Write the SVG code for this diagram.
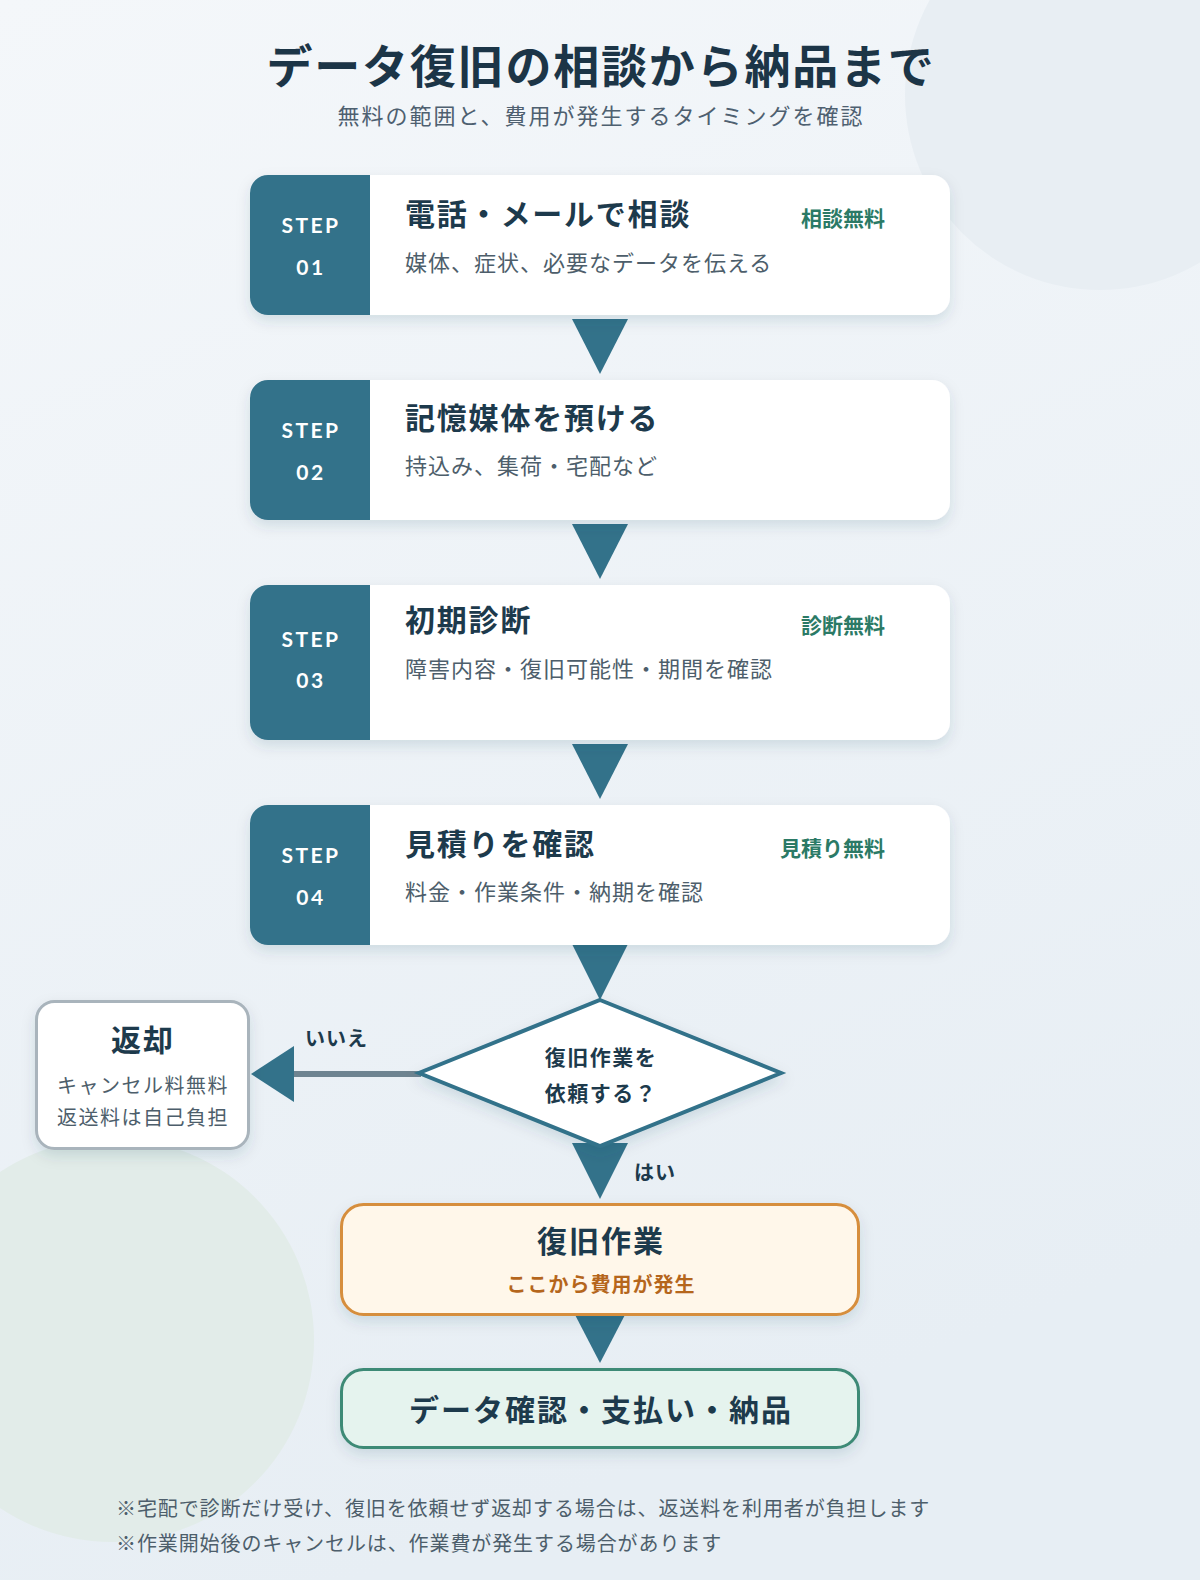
<svg xmlns="http://www.w3.org/2000/svg" width="1200" height="1580" viewBox="0 0 1200 1580">
<defs>
<linearGradient id="bg" x1="0" y1="0" x2="0.3" y2="1">
<stop offset="0" stop-color="#f4f7fa"/>
<stop offset="1" stop-color="#e7eef4"/>
</linearGradient>
<filter id="sh" x="-10%" y="-15%" width="120%" height="145%">
<feDropShadow dx="0" dy="6" stdDeviation="7" flood-color="#1e3c50" flood-opacity="0.13"/>
</filter>
<style>
.jp{font-family:"Noto Sans CJK JP","Noto Sans",sans-serif}
.ttl{font-family:"Noto Sans CJK JP",sans-serif;font-weight:700;font-size:46px;fill:#1c3547;letter-spacing:1.8px}
.sub{font-family:"Noto Sans CJK JP",sans-serif;font-size:22px;fill:#4e6070;letter-spacing:2px}
.card{fill:#ffffff}
.panel{fill:#33728a}
.step{font-family:"Lato","Noto Sans",sans-serif;font-weight:700;font-size:21px;fill:#ffffff;letter-spacing:2.5px}
.ct{font-family:"Noto Sans CJK JP",sans-serif;font-weight:700;font-size:30px;fill:#1d3a4c;letter-spacing:1.8px}
.cd{font-family:"Noto Sans CJK JP",sans-serif;font-size:22px;fill:#4d5e6b;letter-spacing:1px}
.bd{font-family:"Noto Sans CJK JP",sans-serif;font-weight:700;font-size:21px;fill:#2b7a66}
.tri{fill:#33728a}
.lbl{font-family:"Noto Sans CJK JP",sans-serif;font-weight:700;font-size:20px;fill:#1d3a4c;letter-spacing:1px}
.dt{font-family:"Noto Sans CJK JP",sans-serif;font-weight:700;font-size:21px;fill:#1d3a4c;letter-spacing:1.5px}
.rt{font-family:"Noto Sans CJK JP",sans-serif;font-size:20px;fill:#4d5e6b;letter-spacing:1.5px}
.bt{font-family:"Noto Sans CJK JP",sans-serif;font-weight:700;font-size:30px;fill:#1d3a4c;letter-spacing:2px}
.fn{font-family:"Noto Sans CJK JP",sans-serif;font-size:20px;fill:#4d5e6b;letter-spacing:0.9px}
</style>
</defs>

<rect x="0" y="0" width="1200" height="1580" fill="url(#bg)"/>
<circle cx="1100" cy="95" r="195" fill="#e8eef3"/>
<circle cx="112" cy="1340" r="202" fill="#e2ece9"/>

<g id="title">
<text class="ttl" x="601" y="83" text-anchor="middle">データ復旧の相談から納品まで</text>
<text class="sub" x="601" y="124" text-anchor="middle">無料の範囲と、費用が発生するタイミングを確認</text>
</g>

<g id="connectors">
<polygon class="tri" points="572,319 628,319 600,374"/>
<polygon class="tri" points="572,524 628,524 600,579"/>
<polygon class="tri" points="572,744 628,744 600,799"/>
<polygon class="tri" points="572,944 628,944 600,1000"/>
<line x1="294" y1="1074" x2="421" y2="1074" stroke="#6e8491" stroke-width="6"/>
<polygon class="tri" points="294,1046 294,1102 251,1074"/>
<text class="lbl" x="305" y="1046">いいえ</text>
<polygon class="tri" points="572,1143 628,1143 600,1199"/>
<text class="lbl" x="634" y="1180">はい</text>
<polygon class="tri" points="572,1309 628,1309 600,1363"/>
</g>

<g id="node-step1">
<rect class="card" x="250" y="175" width="700" height="140" rx="18" filter="url(#sh)"/>
<path class="panel" d="M268,175 H370 V315 H268 A18,18 0 0 1 250,297 V193 A18,18 0 0 1 268,175 Z"/>
<text class="step" x="311" y="233" text-anchor="middle">STEP</text>
<text class="step" x="311" y="275" text-anchor="middle">01</text>
<text class="ct" x="405" y="225">電話・メールで相談</text>
<text class="cd" x="405" y="271">媒体、症状、必要なデータを伝える</text>
<text class="bd" x="885" y="226" text-anchor="end">相談無料</text>
</g>

<g id="node-step2">
<rect class="card" x="250" y="380" width="700" height="140" rx="18" filter="url(#sh)"/>
<path class="panel" d="M268,380 H370 V520 H268 A18,18 0 0 1 250,502 V398 A18,18 0 0 1 268,380 Z"/>
<text class="step" x="311" y="438" text-anchor="middle">STEP</text>
<text class="step" x="311" y="480" text-anchor="middle">02</text>
<text class="ct" x="405" y="429">記憶媒体を預ける</text>
<text class="cd" x="405" y="474">持込み、集荷・宅配など</text>
</g>

<g id="node-step3">
<rect class="card" x="250" y="585" width="700" height="155" rx="18" filter="url(#sh)"/>
<path class="panel" d="M268,585 H370 V740 H268 A18,18 0 0 1 250,722 V603 A18,18 0 0 1 268,585 Z"/>
<text class="step" x="311" y="647" text-anchor="middle">STEP</text>
<text class="step" x="311" y="688" text-anchor="middle">03</text>
<text class="ct" x="405" y="631">初期診断</text>
<text class="cd" x="405" y="677">障害内容・復旧可能性・期間を確認</text>
<text class="bd" x="885" y="633" text-anchor="end">診断無料</text>
</g>

<g id="node-step4">
<rect class="card" x="250" y="805" width="700" height="140" rx="18" filter="url(#sh)"/>
<path class="panel" d="M268,805 H370 V945 H268 A18,18 0 0 1 250,927 V823 A18,18 0 0 1 268,805 Z"/>
<text class="step" x="311" y="863" text-anchor="middle">STEP</text>
<text class="step" x="311" y="905" text-anchor="middle">04</text>
<text class="ct" x="405" y="855">見積りを確認</text>
<text class="cd" x="405" y="900">料金・作業条件・納期を確認</text>
<text class="bd" x="885" y="856" text-anchor="end">見積り無料</text>
</g>

<g id="node-decision">
<polygon points="600,1000 781,1073 600,1146 419,1073" fill="#ffffff" stroke="#33728a" stroke-width="4" stroke-linejoin="miter" filter="url(#sh)"/>
<text class="dt" x="601" y="1065" text-anchor="middle">復旧作業を</text>
<text class="dt" x="601" y="1101" text-anchor="middle">依頼する？</text>
</g>

<g id="node-return">
<rect x="36.5" y="1001.5" width="212" height="147" rx="18" fill="#ffffff" stroke="#a9b4bc" stroke-width="3" filter="url(#sh)"/>
<text class="bt" x="143" y="1051" text-anchor="middle">返却</text>
<text class="rt" x="143" y="1093" text-anchor="middle">キャンセル料無料</text>
<text class="rt" x="143" y="1125" text-anchor="middle">返送料は自己負担</text>
</g>

<g id="node-recovery">
<rect x="341.5" y="1204.5" width="517" height="110" rx="22" fill="#fff7ea" stroke="#d68e3c" stroke-width="3" filter="url(#sh)"/>
<text class="bt" x="601" y="1252" text-anchor="middle">復旧作業</text>
<text x="601" y="1292" text-anchor="middle" style="font-family:'Noto Sans CJK JP',sans-serif;font-weight:700;font-size:20px;fill:#b5661c;letter-spacing:1px">ここから費用が発生</text>
</g>

<g id="node-delivery">
<rect x="341.5" y="1369.5" width="517" height="78" rx="22" fill="#e5f3ee" stroke="#3e8a76" stroke-width="3" filter="url(#sh)"/>
<text class="bt" x="601" y="1421" text-anchor="middle">データ確認・支払い・納品</text>
</g>

<g id="notes">
<text class="fn" x="116" y="1516">※宅配で診断だけ受け、復旧を依頼せず返却する場合は、返送料を利用者が負担します</text>
<text class="fn" x="116" y="1551">※作業開始後のキャンセルは、作業費が発生する場合があります</text>
</g>
</svg>
